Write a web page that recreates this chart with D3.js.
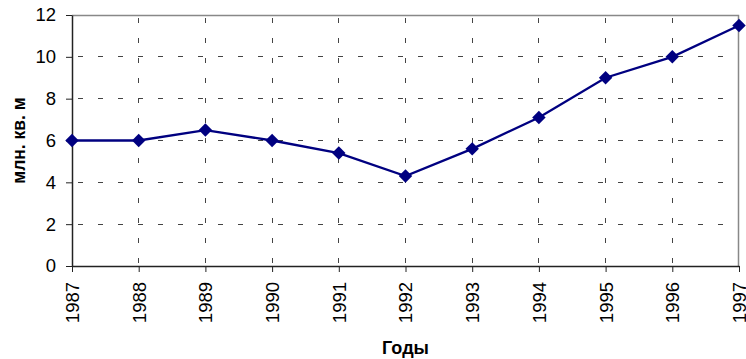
<!DOCTYPE html>
<html>
<head>
<meta charset="utf-8">
<script src="https://cdn.jsdelivr.net/npm/d3@7"></script>
<style>
  body { margin: 0; background: #fff; }
  text { font-family: "Liberation Sans", Arial, sans-serif; }
</style>
</head>
<body>
<svg id="chart" width="746" height="359"></svg>
<script>
// data
const years = [1987, 1988, 1989, 1990, 1991, 1992, 1993, 1994, 1995, 1996, 1997];
const area = [6, 6, 6.5, 6, 5.4, 4.3, 5.6, 7.1, 9, 10, 11.5];
const yTicks = [0, 2, 4, 6, 8, 10, 12];

const svg = d3.select('#chart');
const margin = {top: 15, right: 7, bottom: 93, left: 72};
const width = 746 - margin.left - margin.right;
const height = 359 - margin.top - margin.bottom;

const g = svg.append('g').attr('transform', `translate(${margin.left},${margin.top})`);

const x = d3.scalePoint().domain(years).range([0, width]);
const y = d3.scaleLinear().domain([0, 12]).range([height, 0]);

// dashed grid
g.selectAll('.hgrid')
  .data(yTicks.slice(1, -1))
  .join('line')
  .attr('x1', 0).attr('x2', width)
  .attr('y1', d => y(d)).attr('y2', d => y(d))
  .attr('stroke', '#444').attr('stroke-width', 1)
  .attr('stroke-dasharray', '5,15').attr('stroke-dashoffset', -6)
  .attr('shape-rendering', 'crispEdges');

g.selectAll('.vgrid')
  .data(years.slice(1, -1))
  .join('line')
  .attr('x1', d => x(d)).attr('x2', d => x(d))
  .attr('y1', 0).attr('y2', height)
  .attr('stroke', '#444').attr('stroke-width', 1)
  .attr('stroke-dasharray', '5,15').attr('stroke-dashoffset', -3)
  .attr('shape-rendering', 'crispEdges');

// top and right frame
g.append('path')
  .attr('d', `M0,0.5H${width - 0.5}V${height}`)
  .attr('fill', 'none').attr('stroke', '#888').attr('stroke-width', 1.5);

// axes
const xAxis = g.append('g')
  .attr('transform', `translate(0,${height})`)
  .call(d3.axisBottom(x).tickSize(6).tickSizeOuter(0));
xAxis.select('.domain').attr('stroke', '#222').attr('stroke-width', 1.5);
xAxis.selectAll('.tick line').attr('stroke', '#222');
xAxis.selectAll('.tick text')
  .attr('transform', 'rotate(-90)')
  .attr('text-anchor', 'end')
  .attr('x', -16).attr('y', 0).attr('dy', '0.35em')
  .attr('font-size', 18.5).attr('fill', '#000')
  .style('font-family', '"Liberation Sans", Arial, sans-serif');

const yAxis = g.append('g')
  .call(d3.axisLeft(y).tickValues(yTicks).tickSize(6).tickSizeOuter(0));
yAxis.select('.domain').attr('stroke', '#222').attr('stroke-width', 1.5);
yAxis.selectAll('.tick line').attr('stroke', '#222');
yAxis.selectAll('.tick text')
  .attr('x', -16)
  .attr('font-size', 18.5).attr('fill', '#000')
  .style('font-family', '"Liberation Sans", Arial, sans-serif');

// series line
const line = d3.line().x((d, i) => x(years[i])).y(d => y(d));
g.append('path')
  .datum(area)
  .attr('d', line)
  .attr('fill', 'none')
  .attr('stroke', '#000080')
  .attr('stroke-width', 2.3);

// diamond markers
const diamond = d3.symbol().type(d3.symbolDiamond2).size(115);
g.selectAll('.marker')
  .data(area)
  .join('path')
  .attr('transform', (d, i) => `translate(${x(years[i])},${y(d)})`)
  .attr('d', diamond)
  .attr('fill', '#000080');

// axis titles
svg.append('text')
  .attr('x', margin.left + width / 2)
  .attr('y', 354)
  .attr('text-anchor', 'middle')
  .attr('font-size', 18).attr('font-weight', 'bold')
  .text('Годы');

svg.append('text')
  .attr('transform', `translate(25,${margin.top + height / 2}) rotate(-90)`)
  .attr('text-anchor', 'middle')
  .attr('font-size', 17.5).attr('font-weight', 'bold')
  .text('млн. кв. м');
</script>
</body>
</html>
